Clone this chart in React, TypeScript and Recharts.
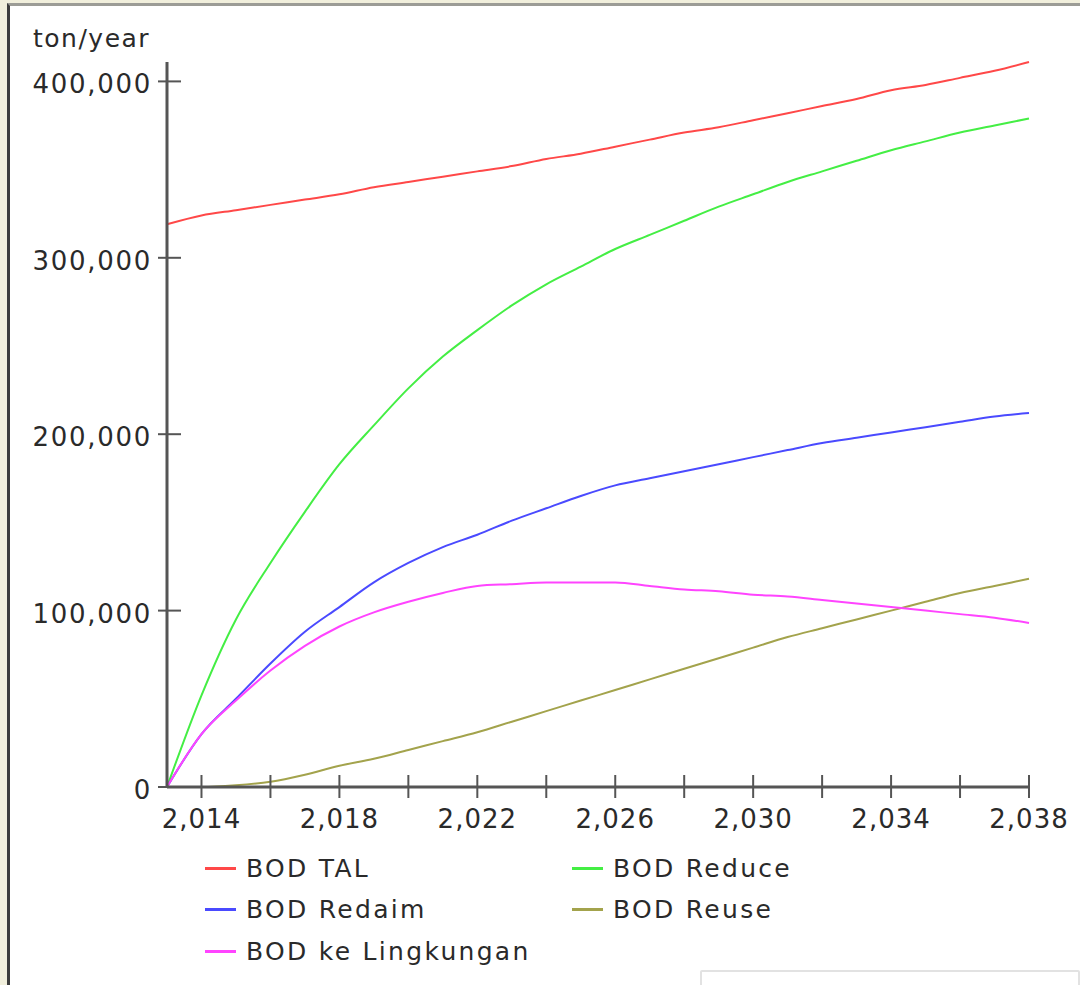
import { LineChart, Line, XAxis, YAxis } from "recharts";

const years = [
  2013, 2014, 2015, 2016, 2017, 2018, 2019, 2020, 2021, 2022, 2023, 2024, 2025,
  2026, 2027, 2028, 2029, 2030, 2031, 2032, 2033, 2034, 2035, 2036, 2037, 2038,
];

const bodTal = [
  319000, 324000, 327000, 330000, 333000, 336000, 340000, 343000, 346000, 349000,
  352000, 356000, 359000, 363000, 367000, 371000, 374000, 378000, 382000, 386000,
  390000, 395000, 398000, 402000, 406000, 411000,
];

const bodReduce = [
  0, 52000, 95000, 127000, 156000, 183000, 205000, 226000, 244000, 259000,
  273000, 285000, 295000, 305000, 313000, 321000, 329000, 336000, 343000, 349000,
  355000, 361000, 366000, 371000, 375000, 379000,
];

const bodReclaim = [
  0, 30000, 50000, 70000, 88000, 102000, 116000, 127000, 136000, 143000, 151000,
  158000, 165000, 171000, 175000, 179000, 183000, 187000, 191000, 195000,
  198000, 201000, 204000, 207000, 210000, 212000,
];

const bodReuse = [
  0, 0, 1000, 3000, 7000, 12000, 16000, 21000, 26000, 31000, 37000, 43000,
  49000, 55000, 61000, 67000, 73000, 79000, 85000, 90000, 95000, 100000,
  105000, 110000, 114000, 118000,
];

const bodLingkungan = [
  0, 30000, 49000, 66000, 80000, 91000, 99000, 105000, 110000, 114000, 115000,
  116000, 116000, 116000, 114000, 112000, 111000, 109000, 108000, 106000,
  104000, 102000, 100000, 98000, 96000, 93000,
];

const xTicks = [2014, 2016, 2018, 2020, 2022, 2024, 2026, 2028, 2030, 2032, 2034, 2036, 2038];
const yTicks = [0, 100000, 200000, 300000, 400000];

const series = [
  { key: "tal", name: "BOD TAL", color: "#ff4848", values: bodTal },
  { key: "reduce", name: "BOD Reduce", color: "#44ee44", values: bodReduce },
  { key: "reclaim", name: "BOD Redaim", color: "#4a4aff", values: bodReclaim },
  { key: "reuse", name: "BOD Reuse", color: "#a3a34c", values: bodReuse },
  { key: "lingkungan", name: "BOD ke Lingkungan", color: "#ff44ff", values: bodLingkungan },
];

const data = years.map((year, i) => {
  const row: Record<string, number> = { year };
  series.forEach((s) => {
    row[s.key] = s.values[i];
  });
  return row;
});

const font = "'DejaVu Sans', Verdana, sans-serif";
const textColor = "#2a2a2a";
const axisColor = "#555";

const XTick = (props: any) => {
  const { x, y, payload } = props;
  const showLabel = (payload.value - 2014) % 4 === 0;
  return (
    <g>
      <line x1={x} x2={x} y1={y - 12} y2={y + 11} stroke={axisColor} strokeWidth={2} />
      {showLabel && (
        <text
          x={x}
          y={y + 41}
          textAnchor="middle"
          fill={textColor}
          fontSize={26}
          fontFamily={font}
          letterSpacing={1}
        >
          {payload.value.toLocaleString("en-US")}
        </text>
      )}
    </g>
  );
};

const YTick = (props: any) => {
  const { x, y, payload } = props;
  return (
    <g>
      <line x1={x - 9} x2={x + 14} y1={y} y2={y} stroke={axisColor} strokeWidth={2} />
      <text
        x={x - 15}
        y={y + 12}
        textAnchor="end"
        fill={textColor}
        fontSize={26}
        fontFamily={font}
        letterSpacing={1.7}
      >
        {payload.value.toLocaleString("en-US")}
      </text>
    </g>
  );
};

const legendRows = [
  [series[0], series[1]],
  [series[2], series[3]],
  [series[4]],
];

export default function App() {
  return (
    <div
      style={{
        position: "fixed",
        left: 0,
        top: 0,
        width: 1080,
        height: 985,
        background: "#f1efdc",
        overflow: "hidden",
      }}
    >
      <div
        style={{
          position: "absolute",
          left: 7,
          top: 3,
          width: 1073,
          height: 982,
          background: "#fff",
          borderLeft: "3px solid #3c3c3c",
          borderTop: "3px solid #9c9c96",
          boxSizing: "border-box",
        }}
      />
      <div
        style={{
          position: "absolute",
          left: 33,
          top: 24,
          fontFamily: font,
          fontSize: 25,
          color: textColor,
          letterSpacing: 1.5,
        }}
      >
        ton/year
      </div>
      <div style={{ position: "absolute", left: 0, top: 0 }}>
        <LineChart
          width={1080}
          height={985}
          data={data}
          margin={{ top: 62, right: 51, left: 0, bottom: 0 }}
        >
          <XAxis
            dataKey="year"
            type="number"
            domain={[2013, 2038]}
            ticks={xTicks}
            interval={0}
            height={198}
            tickSize={0}
            tickMargin={0}
            tickLine={false}
            axisLine={{ stroke: axisColor, strokeWidth: 3 }}
            tick={<XTick />}
          />
          <YAxis
            type="number"
            domain={[0, 410000]}
            ticks={yTicks}
            interval={0}
            width={167}
            tickSize={0}
            tickMargin={0}
            tickLine={false}
            axisLine={{ stroke: axisColor, strokeWidth: 3 }}
            tick={<YTick />}
          />
          {series.map((s) => (
            <Line
              key={s.key}
              dataKey={s.key}
              name={s.name}
              type="monotone"
              stroke={s.color}
              strokeWidth={2}
              dot={false}
              isAnimationActive={false}
            />
          ))}
        </LineChart>
      </div>
      {legendRows.map((row, r) =>
        row.map((s, c) => (
          <div
            key={s.key}
            style={{
              position: "absolute",
              left: c === 0 ? 205 : 572,
              top: 868 + r * 41.5 - 16,
              height: 32,
              display: "flex",
              alignItems: "center",
              fontFamily: font,
              fontSize: 25,
              color: textColor,
              letterSpacing: 2.3,
            }}
          >
            <span
              style={{
                display: "inline-block",
                width: 31,
                height: 3,
                background: s.color,
                marginRight: 10,
              }}
            />
            {s.name}
          </div>
        ))
      )}
      <div
        style={{
          position: "absolute",
          left: 700,
          top: 970,
          width: 376,
          height: 30,
          border: "2px solid #e2e2e2",
          borderRadius: 2,
          background: "#fff",
        }}
      />
    </div>
  );
}
